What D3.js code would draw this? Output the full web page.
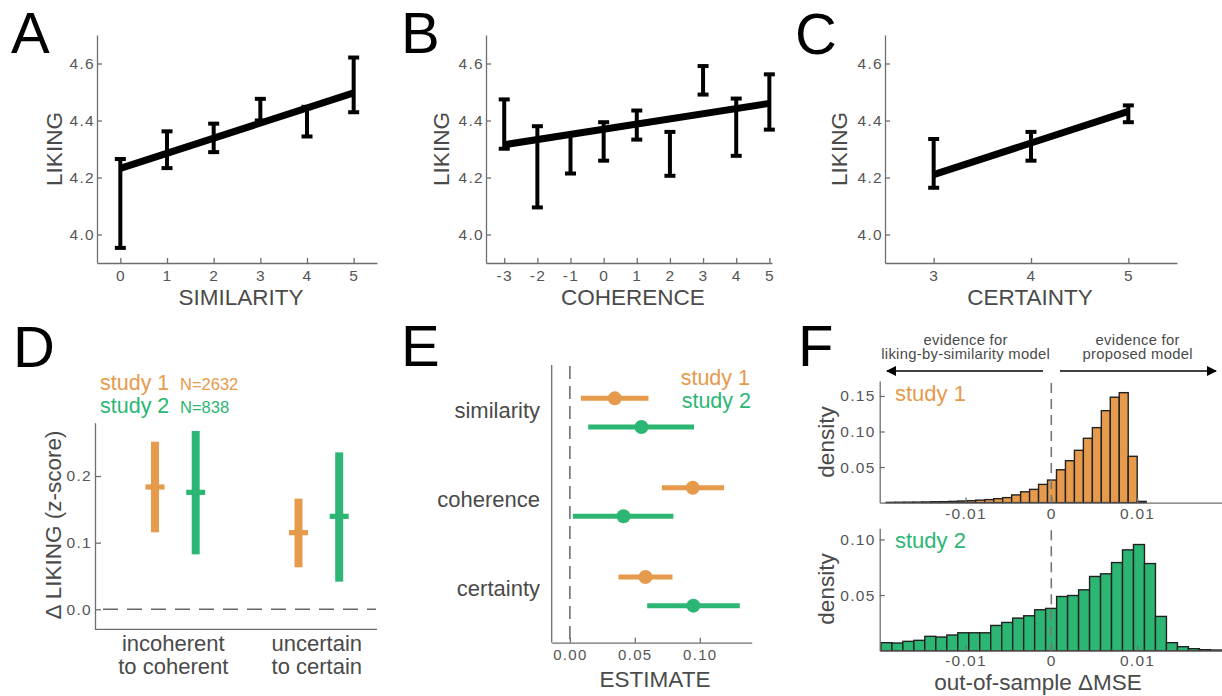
<!DOCTYPE html>
<html><head><meta charset="utf-8">
<script src="https://cdn.jsdelivr.net/npm/d3@7"></script>
<style>
body{margin:0;background:#fff}
svg{display:block}
text{font-family:"Liberation Sans",Arial,Helvetica,sans-serif}
</style>
</head><body>
<svg id="chart" width="1222" height="696"></svg>
<script>
// ---------------- DATA ----------------
// Panel A: liking by similarity
const simX=[0,1,2,3,4,5];
const simLo=[3.953,4.233,4.289,4.400,4.344,4.429];
const simHi=[4.265,4.362,4.389,4.476,4.448,4.621];
const simFitX=[0,5], simFitY=[4.232,4.497];
// Panel B: liking by coherence
const cohX=[-3,-2,-1,0,1,2,3,4,5];
const cohLo=[4.301,4.095,4.214,4.259,4.333,4.206,4.491,4.276,4.368];
const cohHi=[4.474,4.380,4.352,4.394,4.435,4.360,4.591,4.477,4.562];
const cohFitX=[-3,5], cohFitY=[4.315,4.460];
// Panel C: liking by certainty
const cerX=[3,4,5];
const cerLo=[4.164,4.259,4.394];
const cerHi=[4.335,4.360,4.453];
const cerFitX=[3,5], cerFitY=[4.210,4.432];
const likingTicks=[4.0,4.2,4.4,4.6];

// Panel D
const dCats=["incoherent to coherent","uncertain to certain"];
const dCatLines=[["incoherent","to coherent"],["uncertain","to certain"]];
const dS1Mean=[0.1835,0.115], dS1Lo=[0.1155,0.063], dS1Hi=[0.2515,0.166];
const dS2Mean=[0.1755,0.1395], dS2Lo=[0.0825,0.0415], dS2Hi=[0.2675,0.2355];
const dTicks=[0.0,0.1,0.2];
const dLegend=[{name:"study 1",n:"N=2632"},{name:"study 2",n:"N=838"}];

// Panel E
const eCats=["similarity","coherence","certainty"];
const eS1Est=[0.0346,0.0946,0.0582], eS1Lo=[0.0085,0.0708,0.0374], eS1Hi=[0.0605,0.1187,0.0790];
const eS2Est=[0.0551,0.0413,0.0951], eS2Lo=[0.0141,0.0023,0.0595], eS2Hi=[0.0956,0.0797,0.1308];
const eTicks=[0.00,0.05,0.10];

// Panel F: histograms of out-of-sample delta MSE
const f1Width=0.001045;
const f1Edges=[-0.01925,-0.018205,-0.01716,-0.016115,-0.01507,-0.014025,-0.01298,-0.011935,-0.01089,-0.009845,
  -0.0088,-0.007755,-0.00671,-0.005665,-0.00462,-0.003575,-0.00253,-0.001485,-0.00044,0.000605,
  0.00165,0.002695,0.00374,0.004785,0.00583,0.006875,0.00792,0.008965,0.01001];
const f1Density=[0.0003,0.0005,0.0006,0.0007,0.0009,0.0012,0.0013,0.0017,0.0022,0.0027,
  0.0035,0.0042,0.0055,0.0070,0.0108,0.0152,0.0186,0.0256,0.0317,0.0462,
  0.0589,0.0735,0.0904,0.1054,0.1293,0.1482,0.1546,0.0651,0.0017];
const f2Width=0.00128;
const f2Edges=[-0.01986,-0.01858,-0.0173,-0.01602,-0.01474,-0.01346,-0.01218,-0.0109,-0.00962,-0.00834,
  -0.00706,-0.00578,-0.0045,-0.00322,-0.00194,-0.00066,0.00062,0.0019,0.00318,0.00446,
  0.00574,0.00702,0.0083,0.00958,0.01086,0.01214,0.01342,0.0147,0.01598,0.01726,0.01854];
const f2Density=[0.0072,0.0069,0.0084,0.0093,0.0129,0.0123,0.0141,0.0161,0.0161,0.0161,
  0.0227,0.0254,0.0293,0.0314,0.0368,0.0380,0.0487,0.0496,0.0547,0.0667,
  0.0691,0.0792,0.0906,0.0954,0.0783,0.0308,0.0072,0.0036,0.0018,0.0009,0.0006];
const f1Ticks=[0.05,0.10,0.15], f2Ticks=[0.05,0.10];
const fXTicks=[-0.01,0,0.01];

// ---------------- STYLE ----------------
const ORANGE="#E69A4C", GREEN="#2CB673";
const AXIS="#6e6e6e", TICK="#555", LABEL="#4a4a4a";
const FONT='"Liberation Sans",Arial,Helvetica,sans-serif';
const svg=d3.select("#chart");

function styleAxis(g,opts={}){
  g.attr("font-family",FONT).attr("font-size",opts.fs||15.5);
  g.select(".domain").attr("stroke",AXIS).attr("stroke-width",1.3);
  g.selectAll(".tick line").attr("stroke",AXIS).attr("stroke-width",1.3);
  g.selectAll(".tick text").attr("fill",TICK).style("letter-spacing",(opts.ls==null?1.3:opts.ls)+"px");
  return g;
}
function panelLetter(t,x,y){
  svg.append("text").attr("x",x).attr("y",y).attr("font-size",58).attr("fill","#000").text(t);
}
function vLabel(t,x,y,fs){
  svg.append("text").attr("transform",`translate(${x},${y}) rotate(-90)`).attr("text-anchor","middle")
    .attr("font-size",fs||22).attr("fill",LABEL).text(t);
}
const minus=s=>s.replace("\u2212","-");

// ---------------- PANELS A-C ----------------
function linePanel(cfg){
  const x=d3.scaleLinear().domain(cfg.xDom).range(cfg.xRange);
  const y=d3.scaleLinear().domain([3.9,4.7]).range([263,35]);
  const g=svg.append("g");
  g.append("g").attr("transform","translate(0,263)")
    .call(d3.axisBottom(x).tickValues(cfg.xs).tickFormat(d=>minus(d3.format("d")(d))).tickSizeInner(-5).tickSizeOuter(0).tickPadding(7))
    .call(a=>styleAxis(a));
  g.append("g").attr("transform",`translate(${cfg.xRange[0]},0)`)
    .call(d3.axisLeft(y).tickValues(likingTicks).tickFormat(d3.format(".1f")).tickSizeInner(-5).tickSizeOuter(0).tickPadding(2))
    .call(a=>styleAxis(a));
  const pts=cfg.xs.map((v,i)=>({x:v,lo:cfg.lo[i],hi:cfg.hi[i]}));
  g.selectAll(".eb").data(pts).join("line").attr("x1",d=>x(d.x)).attr("x2",d=>x(d.x))
    .attr("y1",d=>y(d.lo)).attr("y2",d=>y(d.hi)).attr("stroke","#000").attr("stroke-width",4);
  ["lo","hi"].forEach(k=>{
    g.selectAll(".cap"+k).data(pts).join("line").attr("x1",d=>x(d.x)-5.5).attr("x2",d=>x(d.x)+5.5)
      .attr("y1",d=>y(d[k])).attr("y2",d=>y(d[k])).attr("stroke","#000").attr("stroke-width",4);
  });
  const fit=cfg.fitX.map((v,i)=>[v,cfg.fitY[i]]);
  g.append("path").attr("d",d3.line().x(d=>x(d[0])).y(d=>y(d[1]))(fit))
    .attr("stroke","#000").attr("stroke-width",7).attr("fill","none");
  g.append("text").attr("x",cfg.labelX).attr("y",305).attr("text-anchor","middle")
    .attr("font-size",22.5).attr("fill",LABEL).text(cfg.label);
  vLabel("LIKING",cfg.likingX,149,22.5);
}
linePanel({xDom:[-0.5,5.5],xRange:[97,377],xs:simX,lo:simLo,hi:simHi,fitX:simFitX,fitY:simFitY,label:"SIMILARITY",labelX:241,likingX:61.5});
linePanel({xDom:[-3.55,5.08],xRange:[486,772],xs:cohX,lo:cohLo,hi:cohHi,fitX:cohFitX,fitY:cohFitY,label:"COHERENCE",labelX:633,likingX:448.5});
linePanel({xDom:[2.5,5.5],xRange:[885,1177],xs:cerX,lo:cerLo,hi:cerHi,fitX:cerFitX,fitY:cerFitY,label:"CERTAINTY",labelX:1030,likingX:846.5});
panelLetter("A",11,53);
panelLetter("B",401,53);
panelLetter("C",795,54);

// ---------------- PANEL D ----------------
(function(){
  const y=d3.scaleLinear().domain([-0.03,0.28]).range([629.3,422.7]);
  const xc=d3.scalePoint().domain(dCats).range([175.3,318.8]);
  const g=svg.append("g");
  g.append("g").attr("transform","translate(95,0)")
    .call(d3.axisLeft(y).tickValues(dTicks).tickFormat(d3.format(".1f")).tickSizeInner(-6).tickSizeOuter(0).tickPadding(3))
    .call(a=>styleAxis(a));
  g.append("line").attr("x1",95).attr("x2",377).attr("y1",629.3).attr("y2",629.3).attr("stroke",AXIS).attr("stroke-width",1.3);
  g.append("line").attr("x1",103).attr("x2",376).attr("y1",y(0)).attr("y2",y(0))
    .attr("stroke","#666").attr("stroke-width",1.5).attr("stroke-dasharray","15,9");
  const series=[{c:ORANGE,off:-20.3,m:dS1Mean,lo:dS1Lo,hi:dS1Hi},{c:GREEN,off:20.4,m:dS2Mean,lo:dS2Lo,hi:dS2Hi}];
  series.forEach(s=>{
    const d=dCats.map((c,i)=>({c,m:s.m[i],lo:s.lo[i],hi:s.hi[i]}));
    g.selectAll(null).data(d).join("rect").attr("x",v=>xc(v.c)+s.off-4).attr("width",8)
      .attr("y",v=>y(v.hi)).attr("height",v=>y(v.lo)-y(v.hi)).attr("fill",s.c);
    g.selectAll(null).data(d).join("rect").attr("x",v=>xc(v.c)+s.off-9.5).attr("width",19)
      .attr("y",v=>y(v.m)-2.6).attr("height",5.2).attr("fill",s.c);
  });
  dCats.forEach((c,i)=>{
    const t=g.append("text").attr("text-anchor","middle").attr("font-size",22).attr("fill",LABEL);
    dCatLines[i].forEach((ln,j)=>t.append("tspan").attr("x",xc(c)-2).attr("y",651+j*22.5).text(ln));
  });
  const cols=[ORANGE,GREEN];
  dLegend.forEach((l,i)=>{
    const t=g.append("text").attr("x",100).attr("y",390+i*22.8).attr("fill",cols[i]).attr("font-size",21.5);
    t.append("tspan").text(l.name);
    t.append("tspan").attr("x",180).attr("font-size",16.5).text(l.n);
  });
  vLabel("\u0394 LIKING (z-score)",60.5,525,22.5);
  panelLetter("D",13,367);
})();

// ---------------- PANEL E ----------------
(function(){
  const x=d3.scaleLinear().domain([-0.014,0.14]).range([551.7,751.7]);
  const yb=d3.scaleBand().domain(eCats).range([368,636]);
  const g=svg.append("g");
  g.append("g").attr("transform","translate(0,642.7)")
    .call(d3.axisBottom(x).tickValues(eTicks).tickFormat(d3.format(".2f")).tickSizeInner(-5).tickSizeOuter(0).tickPadding(7))
    .call(a=>styleAxis(a,{fs:15}));
  g.append("line").attr("x1",551.7).attr("x2",551.7).attr("y1",365).attr("y2",642.7).attr("stroke",AXIS).attr("stroke-width",1.3);
  g.append("line").attr("x1",x(0)).attr("x2",x(0)).attr("y1",366).attr("y2",642).attr("stroke","#666")
    .attr("stroke-width",1.5).attr("stroke-dasharray","13,7");
  const series=[{c:ORANGE,off:-14.3,e:eS1Est,lo:eS1Lo,hi:eS1Hi},{c:GREEN,off:14.3,e:eS2Est,lo:eS2Lo,hi:eS2Hi}];
  series.forEach(s=>{
    const d=eCats.map((c,i)=>({c,e:s.e[i],lo:s.lo[i],hi:s.hi[i]}));
    const cy=v=>yb(v.c)+yb.bandwidth()/2+s.off;
    g.selectAll(null).data(d).join("line").attr("x1",v=>x(v.lo)).attr("x2",v=>x(v.hi))
      .attr("y1",cy).attr("y2",cy).attr("stroke",s.c).attr("stroke-width",5);
    g.selectAll(null).data(d).join("circle").attr("cx",v=>x(v.e)).attr("cy",cy).attr("r",7).attr("fill",s.c);
  });
  eCats.forEach(c=>{
    g.append("text").attr("x",540).attr("y",yb(c)+yb.bandwidth()/2+5).attr("text-anchor","end")
      .attr("font-size",22).attr("fill",LABEL).text(c);
  });
  g.append("text").attr("x",750).attr("y",384.5).attr("text-anchor","end").attr("font-size",21.5).attr("fill",ORANGE).text("study 1");
  g.append("text").attr("x",751).attr("y",408).attr("text-anchor","end").attr("font-size",21.5).attr("fill",GREEN).text("study 2");
  g.append("text").attr("x",655).attr("y",687).attr("text-anchor","middle").attr("font-size",22.5).attr("fill",LABEL).text("ESTIMATE");
  panelLetter("E",401,366);
})();

// ---------------- PANEL F ----------------
(function(){
  const x=d3.scaleLinear().domain([-0.02,0.02]).range([879.7,1222.9]);
  const fmtX=d=>d===0?"0":minus(d3.format(".2f")(d));
  function hist(cfg){
    const y=d3.scaleLinear().domain(cfg.yDom).range(cfg.yRange);
    const g=svg.append("g");
    const d=cfg.edges.map((e,i)=>({x0:e,x1:e+cfg.w,h:cfg.dens[i]}));
    g.selectAll(null).data(d).join("rect")
      .attr("x",v=>x(v.x0)).attr("width",v=>x(v.x1)-x(v.x0))
      .attr("y",v=>y(v.h)).attr("height",v=>y(0)-y(v.h))
      .attr("fill",cfg.color).attr("stroke","#222").attr("stroke-width",1.4);
    g.append("g").attr("transform",`translate(0,${cfg.yRange[0]})`)
      .call(d3.axisBottom(x).tickValues(fXTicks).tickFormat(fmtX).tickSizeInner(-5).tickSizeOuter(0).tickPadding(cfg.xPad))
      .call(a=>styleAxis(a,{fs:15.5}));
    g.append("g").attr("transform","translate(879.7,0)")
      .call(d3.axisLeft(y).tickValues(cfg.ticks).tickFormat(d3.format(".2f")).tickSizeInner(-5).tickSizeOuter(0).tickPadding(4))
      .call(a=>styleAxis(a,{fs:15.5}));
    g.append("line").attr("x1",x(0)).attr("x2",x(0)).attr("y1",cfg.yRange[1]+2).attr("y2",cfg.yRange[0])
      .attr("stroke","#777").attr("stroke-width",1.6).attr("stroke-dasharray","10,6");
    g.append("text").attr("x",895).attr("y",cfg.labelY).attr("font-size",22).attr("fill",cfg.color).text(cfg.label);
    vLabel("density",834,cfg.densY,22.5);
  }
  hist({edges:f1Edges,dens:f1Density,w:f1Width,yDom:[0,0.171],yRange:[502.6,381],ticks:f1Ticks,color:ORANGE,label:"study 1",labelY:400.7,densY:442,xPad:5});
  hist({edges:f2Edges,dens:f2Density,w:f2Width,yDom:[0,0.11],yRange:[650.7,528.3],ticks:f2Ticks,color:GREEN,label:"study 2",labelY:547.7,densY:589,xPad:4});
  svg.append("text").attr("x",1038).attr("y",690).attr("text-anchor","middle").attr("font-size",22.5).attr("fill",LABEL).text("out-of-sample \u0394MSE");
  // annotation arrows
  const defs=svg.append("defs");
  defs.append("marker").attr("id","ah").attr("viewBox","0 0 10 10").attr("refX",9).attr("refY",5)
    .attr("markerWidth",14).attr("markerHeight",10).attr("markerUnits","userSpaceOnUse").attr("orient","auto")
    .append("path").attr("d","M0,0 L10,5 L0,10 z").attr("fill","#000");
  svg.append("line").attr("x1",1043).attr("x2",887).attr("y1",371).attr("y2",371).attr("stroke","#000").attr("stroke-width",1.4).attr("marker-end","url(#ah)");
  svg.append("line").attr("x1",1060).attr("x2",1216).attr("y1",371).attr("y2",371).attr("stroke","#000").attr("stroke-width",1.4).attr("marker-end","url(#ah)");
  const ann=[{x:965.7,l:["evidence for","liking-by-similarity model"]},{x:1137.7,l:["evidence for","proposed model"]}];
  ann.forEach(a=>{
    const t=svg.append("text").attr("text-anchor","middle").attr("font-size",14.8).attr("fill",LABEL).style("letter-spacing","0.3px");
    a.l.forEach((ln,j)=>t.append("tspan").attr("x",a.x).attr("y",345+j*14.3).text(ln));
  });
  panelLetter("F",798,366);
})();
</script>
</body></html>
